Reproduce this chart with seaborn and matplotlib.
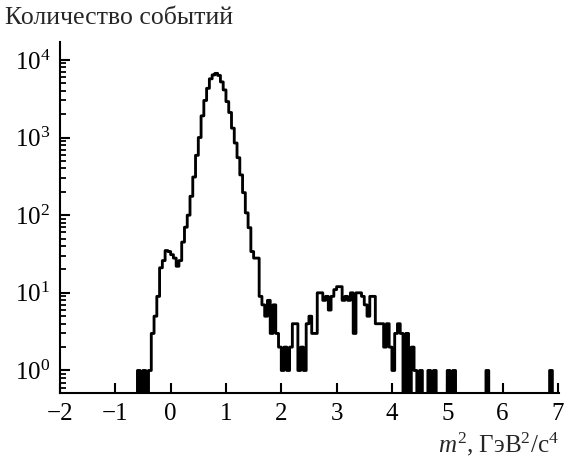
import numpy as np
import pandas as pd
import matplotlib
matplotlib.use("Agg")
import matplotlib.pyplot as plt
import seaborn as sns
from matplotlib.ticker import LogLocator, NullFormatter, FixedLocator

# ---- data: histogram of m^2 (bin width 0.05 GeV^2/c^4), counts per bin ----
bin_width = 0.05
bin_left = [
    -0.60, -0.50, -0.40,
    -0.35, -0.30, -0.25, -0.20, -0.15, -0.10, -0.05, 0.00, 0.05, 0.10,
    0.15, 0.20, 0.25, 0.30, 0.35, 0.40, 0.45, 0.50, 0.55, 0.60, 0.65,
    0.70, 0.75, 0.80, 0.85, 0.90, 0.95, 1.00, 1.05, 1.10, 1.15, 1.20,
    1.25, 1.30, 1.35, 1.40, 1.45, 1.50, 1.55, 1.60, 1.65, 1.70, 1.75,
    1.80, 1.85, 1.90, 1.95, 2.00, 2.05, 2.10, 2.15, 2.20, 2.25, 2.30,
    2.35, 2.40, 2.45, 2.50, 2.55, 2.60, 2.65, 2.70, 2.75, 2.80, 2.85,
    2.90, 2.95, 3.00, 3.05, 3.10, 3.15, 3.20, 3.25, 3.30, 3.35, 3.40,
    3.45, 3.50, 3.55, 3.60, 3.65, 3.70, 3.75, 3.80, 3.85, 3.90, 3.95,
    4.00, 4.05, 4.10, 4.15, 4.25, 4.35, 4.40, 4.50,
    4.65, 4.75, 5.00, 5.10, 5.70, 6.85,
]
counts = [
    1, 1, 1,
    3, 5, 9, 21, 26, 35, 34, 31, 28, 22,
    26, 45, 70, 100, 175, 310, 590, 1000, 1900, 3000, 4300,
    5700, 6400, 6700, 6300, 5200, 4100, 2900, 2100, 1320, 850, 550,
    330, 195, 107, 69, 34, 28, 28, 9, 7, 5, 8,
    3, 7, 3, 2, 1, 2, 1, 2, 4, 4, 1,
    2, 1, 4, 5, 3, 3, 10, 10, 8, 9, 6,
    9, 11, 12, 12, 8, 9, 8, 10, 3, 10, 10,
    9, 7, 5, 9, 9, 4, 4, 4, 2, 4, 2,
    1, 3, 4, 3, 3, 2, 1, 1,
    1, 1, 1, 1, 1, 1,
]
x_ticks = [-2, -1, 0, 1, 2, 3, 4, 5, 6, 7]
y_title = "Количество событий"
x_title = r"$m^2$, ГэВ$^2$/с$^4$"

# ---- style ----
sns.set_theme(style="ticks")
plt.rcParams.update({
    "font.family": ["Liberation Serif", "DejaVu Serif"],
    "mathtext.fontset": "custom",
    "mathtext.rm": "Liberation Serif",
    "mathtext.it": "Liberation Serif:italic",
    "axes.linewidth": 1.5,
    "axes.edgecolor": "black",
    "xtick.color": "black",
    "ytick.color": "black",
})

fig = plt.figure(figsize=(5.73, 4.63), dpi=100)
ax = fig.add_axes([60 / 573, 1 - 393 / 463, 499 / 573, 351 / 463])

df = pd.DataFrame({"m2": np.round(np.array(bin_left) + bin_width / 2, 4), "n": counts})

sns.histplot(data=df, x="m2", weights="n", binwidth=bin_width,
             binrange=(-2.0, 7.05), element="step",
             fill=False, color="black", linewidth=2.05, snap=False, ax=ax)

ax.set_yscale("log")
ax.set_xlim(-2.0, 7.02)
ax.set_ylim(10 ** -0.29, 10 ** 4.23)

ax.xaxis.set_major_locator(FixedLocator(x_ticks))
ax.yaxis.set_major_locator(LogLocator(base=10, numticks=10))
ax.yaxis.set_minor_locator(LogLocator(base=10, subs=np.arange(2, 10), numticks=20))
ax.yaxis.set_minor_formatter(NullFormatter())

ax.tick_params(axis="both", which="major", direction="in", length=7,
               width=1.5, labelsize=18, pad=7)
ax.tick_params(axis="y", which="minor", direction="in", length=4.5, width=1.3)
ax.tick_params(axis="x", which="minor", bottom=False)

for s in ["top", "right"]:
    ax.spines[s].set_visible(False)

ax.set_ylabel("")
ax.set_xlabel(x_title, fontsize=18, loc="right", labelpad=4)
fig.text(0.009, 0.985, y_title, fontsize=18.5, ha="left", va="top")

fig.savefig("out.png", dpi=100)
